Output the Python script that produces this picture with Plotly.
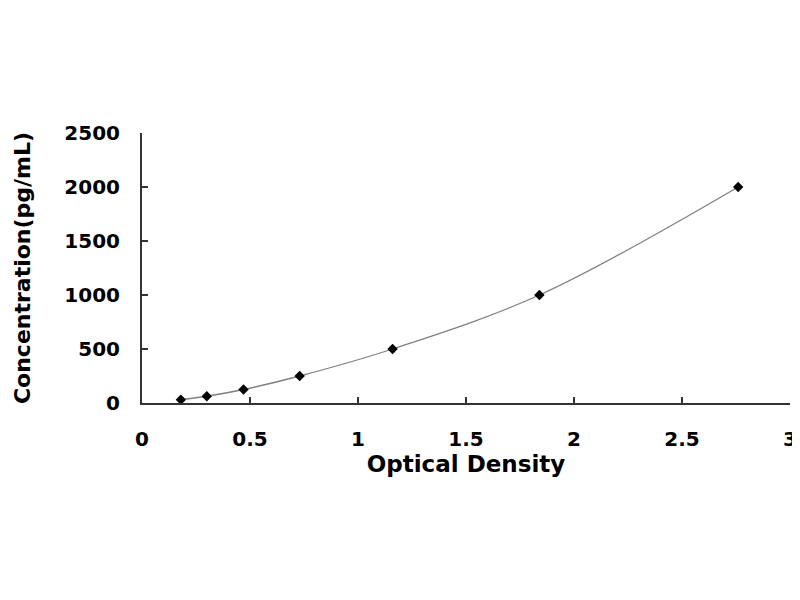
import plotly.graph_objects as go

# Standard curve data
optical_density = [0.18, 0.30, 0.47, 0.73, 1.16, 1.84, 2.76]
concentration = [31.25, 62.5, 125, 250, 500, 1000, 2000]

x_ticks = [0, 0.5, 1, 1.5, 2, 2.5, 3]
x_tick_text = ["0", "0.5", "1", "1.5", "2", "2.5", "3"]
y_ticks = [0, 500, 1000, 1500, 2000, 2500]

FONT = "DejaVu Sans"

fig = go.Figure()

# smooth fitted curve
fig.add_trace(go.Scatter(
    x=optical_density, y=concentration,
    mode="lines", line=dict(color="#808080", width=1.3, shape="spline", smoothing=1.0),
    hoverinfo="skip", showlegend=False,
))
# data points
fig.add_trace(go.Scatter(
    x=optical_density, y=concentration,
    mode="markers", marker=dict(symbol="diamond", size=8, color="black"),
    showlegend=False,
))

fig.update_layout(
    width=800, height=600,
    margin=dict(l=134, r=18, t=125, b=205),
    paper_bgcolor="white", plot_bgcolor="white",
    font=dict(family=FONT, color="black"),
)

fig.update_xaxes(
    range=[0, 3], tickvals=x_ticks, ticktext=x_tick_text,
    showgrid=False, zeroline=False,
    showline=True, linecolor="#333333", linewidth=2,
    ticks="inside", ticklen=6, tickwidth=1.5, tickcolor="#333333",
    tickfont=dict(family=FONT, size=20, color="black", weight="bold"),
    ticklabelstandoff=17,
    title=dict(text="<b>Optical Density</b>", font=dict(family=FONT, size=23, color="black"), standoff=0),
)
fig.update_yaxes(
    range=[0, 2500], tickvals=y_ticks,
    showgrid=False, zeroline=False,
    showline=True, linecolor="#333333", linewidth=2,
    ticks="inside", ticklen=6, tickwidth=1.5, tickcolor="#333333",
    tickfont=dict(family=FONT, size=20, color="black", weight="bold"),
    ticklabelstandoff=16,
    title=dict(text="<b>Concentration(pg/mL)</b>", font=dict(family=FONT, size=22, color="black"), standoff=28),
)

fig.write_html("out.html")
